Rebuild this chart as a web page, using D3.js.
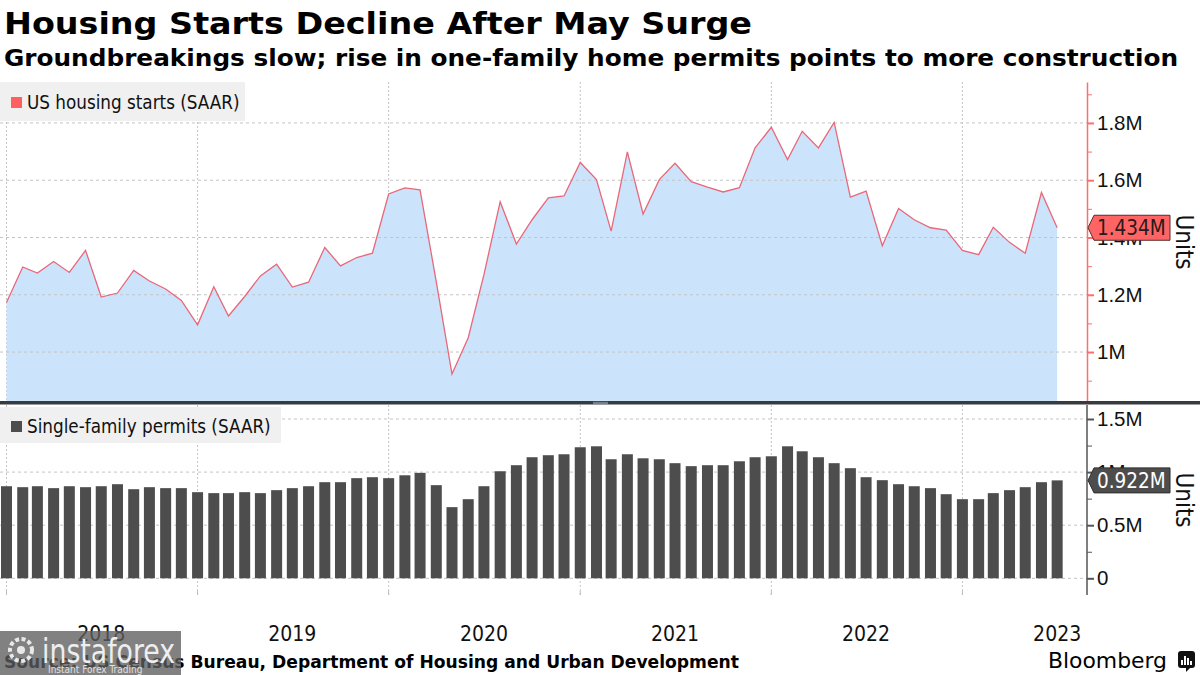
<!DOCTYPE html>
<html><head><meta charset="utf-8">
<script src="https://cdn.jsdelivr.net/npm/d3@7"></script>
<style>
body{margin:0;background:#fff;}
svg{display:block;font-family:"DejaVu Sans Condensed","DejaVu Sans",sans-serif;font-stretch:condensed;}
</style></head><body>
<svg id="c" width="1200" height="675"></svg>
<script>
// ---- data (monthly, SAAR, millions of units) ----
const months = [
  "2017-12",
  "2018-01","2018-02","2018-03","2018-04","2018-05","2018-06","2018-07","2018-08","2018-09","2018-10","2018-11","2018-12",
  "2019-01","2019-02","2019-03","2019-04","2019-05","2019-06","2019-07","2019-08","2019-09","2019-10","2019-11","2019-12",
  "2020-01","2020-02","2020-03","2020-04","2020-05","2020-06","2020-07","2020-08","2020-09","2020-10","2020-11","2020-12",
  "2021-01","2021-02","2021-03","2021-04","2021-05","2021-06","2021-07","2021-08","2021-09","2021-10","2021-11","2021-12",
  "2022-01","2022-02","2022-03","2022-04","2022-05","2022-06","2022-07","2022-08","2022-09","2022-10","2022-11","2022-12",
  "2023-01","2023-02","2023-03","2023-04","2023-05","2023-06"
];
const housingStarts = [
  1.173,
  1.297,1.276,1.316,1.278,1.355,1.192,1.206,1.285,1.248,1.220,1.180,1.095,
  1.228,1.126,1.194,1.266,1.307,1.227,1.244,1.365,1.301,1.330,1.345,1.552,
  1.573,1.566,1.245,0.923,1.050,1.270,1.525,1.377,1.462,1.538,1.545,1.662,
  1.602,1.422,1.699,1.482,1.602,1.659,1.595,1.576,1.559,1.574,1.713,1.785,
  1.672,1.771,1.713,1.802,1.541,1.562,1.371,1.501,1.462,1.434,1.426,1.355,
  1.340,1.436,1.383,1.345,1.557,1.434
];
const singleFamilyPermits = [
  0.867,
  0.858,0.867,0.849,0.867,0.858,0.867,0.886,0.839,0.858,0.849,0.849,0.811,
  0.802,0.802,0.811,0.802,0.830,0.849,0.867,0.905,0.905,0.943,0.952,0.943,
  0.970,0.993,0.877,0.670,0.745,0.867,1.008,1.065,1.140,1.159,1.168,1.234,
  1.243,1.121,1.168,1.130,1.121,1.084,1.056,1.065,1.065,1.102,1.140,1.149,
  1.243,1.196,1.140,1.084,1.037,0.952,0.924,0.886,0.867,0.849,0.792,0.745,
  0.745,0.802,0.830,0.858,0.905,0.922
];
const startsTicks = [1.0, 1.2, 1.4, 1.6, 1.8];
const startsTickLabels = ["1M", "1.2M", "1.4M", "1.6M", "1.8M"];
const startsMinorTicks = [0.9, 1.1, 1.3, 1.5, 1.7, 1.9];
const permitTicks = [0, 0.5, 1.0, 1.5];
const permitTickLabels = ["0", "0.5M", "1M", "1.5M"];
const permitMinorTicks = [0.25, 0.75, 1.25];
const years = [2018, 2019, 2020, 2021, 2022, 2023];
const yearLabels = ["2018", "2019", "2020", "2021", "2022", "2023"];
const startsLastLabel = "1.434M";
const permitsLastLabel = "0.922M";

// ---- layout ----
const svg = d3.select("#c");
const W = 1200, H = 675;
const plotL = 0, plotR = 1087;
const topT = 82, topB = 401;
const botT = 405, botB = 595;

const parse = d3.timeParse("%Y-%m");
// each monthly observation is plotted at the end of its month
const dates = months.map(m => d3.timeMonth.offset(parse(m), 1));
const startsData = dates.map((d, i) => ({date: d, v: housingStarts[i]}));
const permitsData = dates.map((d, i) => ({date: d, v: singleFamilyPermits[i]}));

const x = d3.scaleTime()
  .domain([new Date(2017, 11, 19, 14), new Date(2023, 7, 27)])
  .range([plotL, plotR]);
const yTop = d3.scaleLinear().domain([0.829, 1.943]).range([topB, topT]);
const yBot = d3.scaleLinear().domain([0, 1.5]).range([578.3, 419]);

const gridColor = "#c4c4c4";

// ---- titles ----
svg.append("text").attr("x", 4).attr("y", 34)
  .attr("font-size", 31).attr("font-weight", "bold").attr("fill", "#000")
  .style("font-stretch", "normal")
  .attr("textLength", 748).attr("lengthAdjust", "spacingAndGlyphs")
  .text("Housing Starts Decline After May Surge");
svg.append("text").attr("x", 4).attr("y", 66)
  .attr("font-size", 23).attr("font-weight", "bold").attr("fill", "#000")
  .style("font-stretch", "normal")
  .attr("textLength", 1174).attr("lengthAdjust", "spacingAndGlyphs")
  .text("Groundbreakings slow; rise in one-family home permits points to more construction");

// ---- top panel ----
const gTop = svg.append("g");
gTop.selectAll("line.vg").data(years).join("line")
  .attr("x1", d => x(new Date(d, 0, 1))).attr("x2", d => x(new Date(d, 0, 1)))
  .attr("y1", topT).attr("y2", topB)
  .attr("stroke", gridColor).attr("stroke-dasharray", "2,2").attr("stroke-width", 1);

const area = d3.area().x(d => x(d.date)).y0(topB).y1(d => yTop(d.v));
gTop.append("path").datum(startsData).attr("d", area).attr("fill", "#cbe3fb");

gTop.selectAll("line.hg").data(startsTicks).join("line")
  .attr("x1", plotL).attr("x2", plotR)
  .attr("y1", d => yTop(d)).attr("y2", d => yTop(d))
  .attr("stroke", gridColor).attr("stroke-dasharray", "3,3").attr("stroke-width", 1);

const line = d3.line().x(d => x(d.date)).y(d => yTop(d.v));
gTop.append("path").datum(startsData).attr("d", line)
  .attr("fill", "none").attr("stroke", "#e8687a").attr("stroke-width", 1.3)
  .attr("stroke-linejoin", "miter");

const axTop = d3.axisRight(yTop).tickValues(startsTicks)
  .tickFormat((d, i) => startsTickLabels[i]).tickSize(7).tickSizeOuter(0).tickPadding(3);
const gAxTop = svg.append("g").attr("transform", `translate(${plotR},0)`).call(axTop);
gAxTop.select(".domain").attr("stroke", "#ff6e6e").attr("stroke-width", 1.5);
gAxTop.selectAll(".tick line").attr("stroke", "#ff6e6e").attr("stroke-width", 2);
gAxTop.selectAll(".tick text").attr("font-size", 20.5).attr("fill", "#111")
  .attr("font-family", null);
const axTopMinor = d3.axisRight(yTop).tickValues(startsMinorTicks).tickFormat("").tickSize(5).tickSizeOuter(0);
const gAxTopMinor = svg.append("g").attr("transform", `translate(${plotR},0)`).call(axTopMinor);
gAxTopMinor.select(".domain").remove();
gAxTopMinor.selectAll(".tick line").attr("stroke", "#ff6e6e").attr("stroke-width", 1);

svg.append("text").attr("transform", `translate(1176,242) rotate(90)`)
  .attr("text-anchor", "middle").attr("font-size", 24).attr("fill", "#111")
  .text("Units");

function badge(cy, fill, textColor, label, stroke) {
  const g = svg.append("g");
  const x0 = plotR + 1, x1 = plotR + 7, x2 = 1170, h = 12.5;
  g.append("path")
    .attr("d", `M${x0},${cy} L${x1},${cy - h} L${x2},${cy - h} L${x2},${cy + h} L${x1},${cy + h} Z`)
    .attr("fill", fill).attr("stroke", stroke).attr("stroke-width", 1);
  g.append("text").attr("x", 1097).attr("y", cy).attr("dy", "0.36em")
    .attr("font-size", 20.5).attr("fill", textColor).text(label);
}
badge(yTop(housingStarts[housingStarts.length - 1]), "#ff6464", "#2a1a1a", startsLastLabel, "#5a2a2a");

// top legend
svg.append("rect").attr("x", 0).attr("y", topT).attr("width", 245).attr("height", 39).attr("fill", "#f0f0f0");
svg.append("rect").attr("x", 11).attr("y", 97).attr("width", 11).attr("height", 11).attr("fill", "#ff5f5f");
svg.append("text").attr("x", 27).attr("y", 109).attr("font-size", 18.7).attr("fill", "#111")
  .text("US housing starts (SAAR)");

// separator
svg.append("rect").attr("x", 0).attr("y", 401).attr("width", W).attr("height", 3.5).attr("fill", "#363b40");
svg.append("line").attr("x1", 593).attr("x2", 608).attr("y1", 402.3).attr("y2", 402.3).attr("stroke", "#9aa0a6").attr("stroke-width", 0.8);
svg.append("line").attr("x1", 593).attr("x2", 608).attr("y1", 403.6).attr("y2", 403.6).attr("stroke", "#9aa0a6").attr("stroke-width", 0.8);

// ---- bottom panel ----
const gBot = svg.append("g");
gBot.selectAll("line.vg").data(years).join("line")
  .attr("x1", d => x(new Date(d, 0, 1))).attr("x2", d => x(new Date(d, 0, 1)))
  .attr("y1", botT).attr("y2", botB)
  .attr("stroke", gridColor).attr("stroke-dasharray", "2,2").attr("stroke-width", 1);
gBot.selectAll("line.hg").data(permitTicks).join("line")
  .attr("x1", plotL).attr("x2", plotR)
  .attr("y1", d => yBot(d)).attr("y2", d => yBot(d))
  .attr("stroke", gridColor).attr("stroke-dasharray", "3,3").attr("stroke-width", 1);

const barW = 11;
gBot.selectAll("rect.bar").data(permitsData).join("rect")
  .attr("x", d => x(d.date) - barW / 2).attr("width", barW)
  .attr("y", d => yBot(d.v)).attr("height", d => yBot(0) - yBot(d.v))
  .attr("fill", "#4d4d4d");

const axBot = d3.axisRight(yBot).tickValues(permitTicks)
  .tickFormat((d, i) => permitTickLabels[i]).tickSize(7).tickSizeOuter(0).tickPadding(3);
const gAxBot = svg.append("g").attr("transform", `translate(${plotR},0)`).call(axBot);
gAxBot.select(".domain").remove();
gAxBot.selectAll(".tick line").attr("stroke", "#555").attr("stroke-width", 2);
gAxBot.selectAll(".tick text").attr("font-size", 20.5).attr("fill", "#111").attr("font-family", null);
svg.append("line").attr("x1", plotR).attr("x2", plotR).attr("y1", botT).attr("y2", botB)
  .attr("stroke", "#555").attr("stroke-width", 1.5);
const axBotMinor = d3.axisRight(yBot).tickValues(permitMinorTicks).tickFormat("").tickSize(5).tickSizeOuter(0);
const gAxBotMinor = svg.append("g").attr("transform", `translate(${plotR},0)`).call(axBotMinor);
gAxBotMinor.select(".domain").remove();
gAxBotMinor.selectAll(".tick line").attr("stroke", "#555").attr("stroke-width", 1);

svg.append("text").attr("transform", `translate(1176,500) rotate(90)`)
  .attr("text-anchor", "middle").attr("font-size", 24).attr("fill", "#111")
  .text("Units");

badge(yBot(singleFamilyPermits[singleFamilyPermits.length - 1]), "#4d4d4d", "#ffffff", permitsLastLabel, "#2d2d2d");

// bottom legend
svg.append("rect").attr("x", 0).attr("y", 407).attr("width", 281).attr("height", 36).attr("fill", "#f0f0f0");
svg.append("rect").attr("x", 11).attr("y", 421).attr("width", 11).attr("height", 11).attr("fill", "#4d4d4d");
svg.append("text").attr("x", 27).attr("y", 433).attr("font-size", 18.7).attr("fill", "#111")
  .text("Single-family permits (SAAR)");

// ---- x axis ----
svg.selectAll("line.xt").data(years).join("line")
  .attr("x1", d => x(new Date(d, 0, 1))).attr("x2", d => x(new Date(d, 0, 1)))
  .attr("y1", botB - 4).attr("y2", botB)
  .attr("stroke", "#bbb").attr("stroke-width", 1);
svg.selectAll("text.yl").data(years).join("text")
  .attr("x", d => x(new Date(d, 6, 1))).attr("y", 641)
  .attr("text-anchor", "middle").attr("font-size", 21).attr("fill", "#111")
  .text((d, i) => yearLabels[i]);

// ---- footer ----
svg.append("text").attr("x", 4).attr("y", 668)
  .attr("font-size", 17).attr("font-weight", "bold").attr("fill", "#000")
  .style("font-stretch", "normal")
  .attr("textLength", 735).attr("lengthAdjust", "spacingAndGlyphs")
  .text("Source: US Census Bureau, Department of Housing and Urban Development");
svg.append("text").attr("x", 1048).attr("y", 668)
  .attr("font-size", 22).attr("fill", "#000").style("font-stretch", "normal")
  .attr("textLength", 119).attr("lengthAdjust", "spacingAndGlyphs")
  .text("Bloomberg");
const logo = svg.append("g").attr("transform", "translate(1178,651)");
logo.append("rect").attr("width", 17).attr("height", 17).attr("rx", 3).attr("fill", "#111");
logo.append("path").attr("d", "M8,17 L8,21 L12,17 Z").attr("fill", "#111");
[[4, 9], [7, 5], [10, 7], [13, 10]].forEach(([bx, by]) => {
  logo.append("rect").attr("x", bx - 1).attr("y", by).attr("width", 2).attr("height", 14 - by).attr("fill", "#fff");
});

// ---- watermark overlay ----
const wm = svg.append("g");
wm.append("rect").attr("x", 0).attr("y", 631).attr("width", 181).attr("height", 44)
  .attr("fill", "#5e5e5e").attr("opacity", 0.78);
wm.append("circle").attr("cx", 21).attr("cy", 650).attr("r", 11).attr("fill", "none")
  .attr("stroke", "#e8e8e8").attr("stroke-width", 4).attr("stroke-dasharray", "4,2.5");
wm.append("circle").attr("cx", 21).attr("cy", 650).attr("r", 4).attr("fill", "#e8e8e8");
wm.append("text").attr("x", 42).attr("y", 663).attr("font-size", 34).attr("fill", "#eeeeee")
  .style("font-stretch", "normal").attr("textLength", 133).attr("lengthAdjust", "spacingAndGlyphs")
  .text("instaforex");
wm.append("text").attr("x", 48).attr("y", 673).attr("font-size", 10).attr("fill", "#e0e0e0")
  .text("Instant Forex Trading");
</script>
</body></html>
